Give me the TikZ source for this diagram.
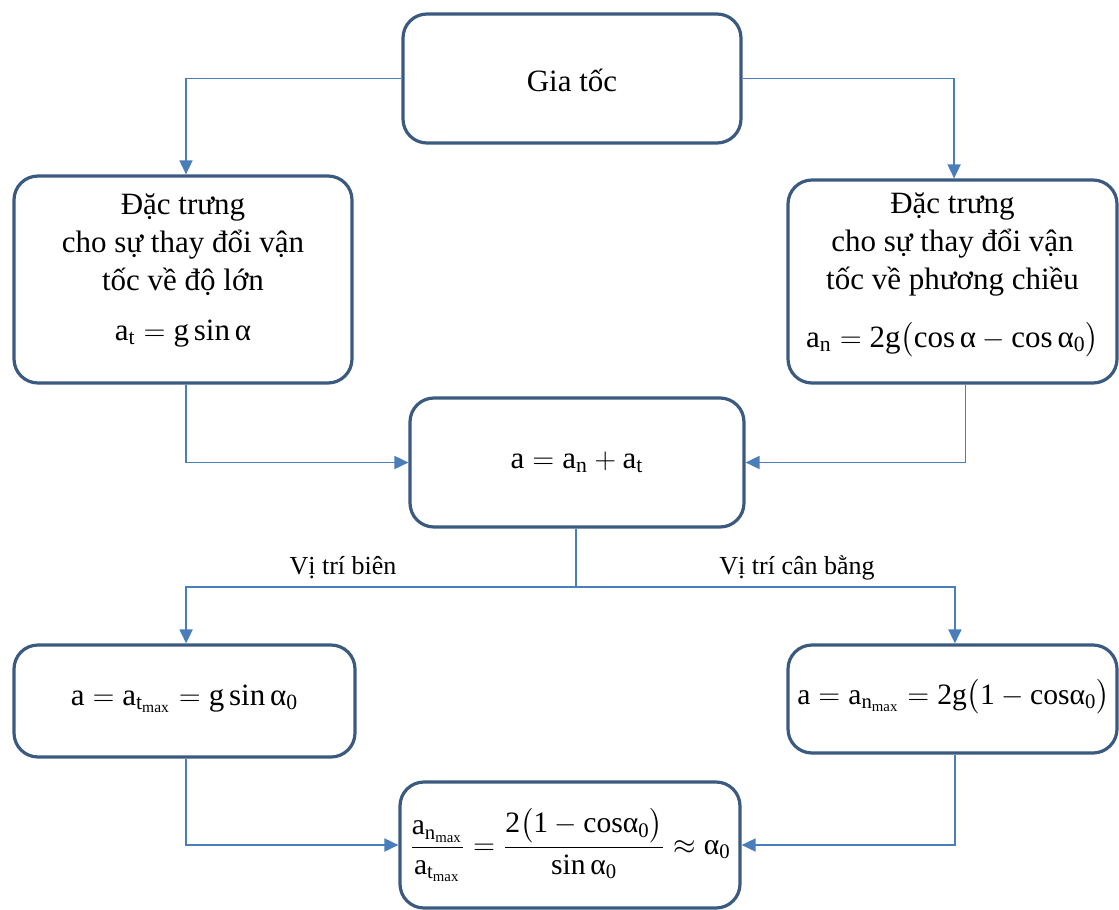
\documentclass[tikz,border=0pt]{standalone}
\usepackage{amsmath}
\usepackage{fontspec}
\setmainfont{Liberation Serif}
\usetikzlibrary{arrows.meta}
\definecolor{boxc}{HTML}{3A5A80}
\definecolor{linec}{HTML}{4A7EBB}
\newcommand{\tx}[1]{\text{#1}}
\begin{document}
\begin{tikzpicture}[x=0.5pt,y=-0.5pt,
  bx/.style={draw=boxc,line width=1.6pt,rounded corners=12pt,inner sep=0pt},
  txt/.style={align=center,inner sep=0pt,font=\fontsize{15.5}{19}\selectfont},
  ftxt/.style={align=center,inner sep=0pt,font=\fontsize{14.8}{19}\selectfont},
  lab/.style={inner sep=0pt,font=\fontsize{13}{15}\selectfont},
  ln/.style={draw=linec,line width=0.9pt},
  arr/.style={ln,-{Triangle[length=7pt,width=6.5pt]}}]
\useasboundingbox (0,0) rectangle (1119,910);
% boxes
\node[bx,minimum width=169pt,minimum height=64.5pt] (g) at (572,78.5) {};
\node[bx,minimum width=169pt,minimum height=103.5pt] (L) at (183,279.5) {};
\node[bx,minimum width=164.5pt,minimum height=101.5pt] (R) at (952.5,281.5) {};
\node[bx,minimum width=167pt,minimum height=64.5pt] (C) at (577,462.5) {};
\node[bx,minimum width=170.5pt,minimum height=56pt] (BL) at (184.5,701) {};
\node[bx,minimum width=164.5pt,minimum height=54pt] (BR) at (952.5,699) {};
\node[bx,minimum width=170pt,minimum height=63pt] (B) at (570,845) {};
% texts
\node[txt] (gt) at (572,80) {Gia tốc};
\node[txt] (Lt) at (183,270) {Đặc trưng\\cho sự thay đổi vận\\tốc về độ lớn\\[6pt]
  $\tx{a}_{\tx{t}}=\tx{g}\,\tx{sin}\,\tx{α}$};
\node[txt] (Rt) at (952.5,275) {Đặc trưng\\cho sự thay đổi vận\\tốc về phương chiều\\[10pt]
  $\tx{a}_{\tx{n}}=\tx{2g}\bigl(\tx{cos}\,\tx{α}-\tx{cos}\,\tx{α}_{\tx{0}}\bigr)$};
\node[txt] (Ct) at (577,462) {$\tx{a}=\tx{a}_{\tx{n}}+\tx{a}_{\tx{t}}$};
\node[txt] (BLt) at (184.5,699) {$\tx{a}=\tx{a}_{\tx{t}_{\tx{max}}}=\tx{g}\,\tx{sin}\,\tx{α}_{\tx{0}}$};
\node[ftxt] (BRt) at (953.5,697) {$\tx{a}=\tx{a}_{\tx{n}_{\tx{max}}}=\tx{2g}\bigl(\tx{1}-\tx{cosα}_{\tx{0}}\bigr)$};
\node[ftxt] (Bt) at (570,845) {$\dfrac{\tx{a}_{\tx{n}_{\tx{max}}}}{\tx{a}_{\tx{t}_{\tx{max}}}}=\dfrac{\tx{2}\bigl(\tx{1}-\tx{cosα}_{\tx{0}}\bigr)}{\tx{sin}\,\tx{α}_{\tx{0}}}\approx\tx{α}_{\tx{0}}$};
% labels
\node[lab] (lb1) at (343,568) {Vị trí biên};
\node[lab] (lb2) at (797,568) {Vị trí cân bằng};
% connectors
\draw[arr] (g.west) -| ([xshift=1.5pt]L.north);
\draw[arr] (g.east) -| ([xshift=0.8pt]R.north);
\draw[arr] ([xshift=1.5pt]L.south) |- (C.west);
\draw[arr] ([xshift=6.5pt]R.south) |- (C.east);
\coordinate (jn) at (576,587);
\draw[ln] ([xshift=-0.5pt]C.south) -- (jn);
\draw[arr] (jn) -| ([xshift=0.8pt]BL.north);
\draw[arr] (jn) -| ([xshift=1.2pt]BR.north);
\draw[arr] ([xshift=0.8pt]BL.south) |- (B.west);
\draw[arr] ([xshift=1.2pt]BR.south) |- (B.east);
\end{tikzpicture}
\end{document}
